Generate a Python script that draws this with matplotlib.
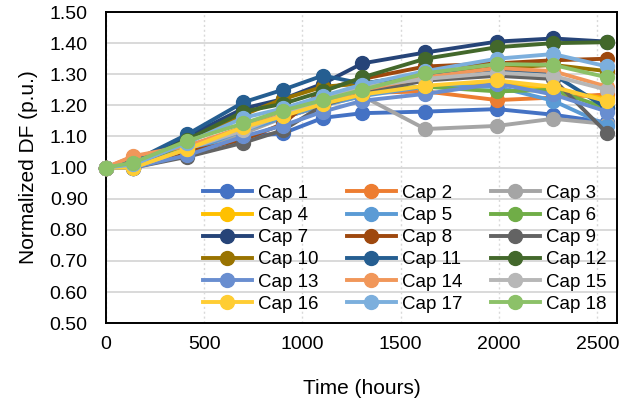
import matplotlib
matplotlib.use('Agg')
import matplotlib.pyplot as plt

plt.rcParams['font.family'] = ['Liberation Sans', 'DejaVu Sans']

# ------- data -------
hours = [0, 140, 415, 700, 900, 1105, 1305, 1625, 1990, 2275, 2550]

cap1 = [1.00, 1.00, 1.05, 1.10, 1.11, 1.16, 1.175, 1.18, 1.188, 1.17, 1.145]
cap2 = [1.00, 1.035, 1.06, 1.12, 1.16, 1.20, 1.24, 1.245, 1.217, 1.225, 1.235]
cap3 = [1.00, 1.00, 1.05, 1.11, 1.16, 1.20, 1.23, 1.124, 1.134, 1.157, 1.14]
cap4 = [1.00, 1.01, 1.06, 1.13, 1.17, 1.21, 1.24, 1.26, 1.27, 1.255, 1.22]
cap5 = [1.00, 1.00, 1.05, 1.12, 1.16, 1.20, 1.23, 1.26, 1.26, 1.215, 1.135]
cap6 = [1.00, 1.01, 1.06, 1.13, 1.17, 1.21, 1.25, 1.26, 1.245, 1.25, 1.19]
cap7 = [1.00, 1.00, 1.10, 1.19, 1.22, 1.27, 1.335, 1.37, 1.405, 1.415, 1.405]
cap8 = [1.00, 1.01, 1.05, 1.09, 1.14, 1.25, 1.285, 1.325, 1.335, 1.345, 1.35]
cap9 = [1.00, 1.00, 1.035, 1.08, 1.12, 1.20, 1.24, 1.28, 1.295, 1.285, 1.11]
cap10 = [1.00, 1.01, 1.08, 1.17, 1.22, 1.26, 1.27, 1.30, 1.32, 1.33, 1.31]
cap11 = [1.00, 1.02, 1.107, 1.21, 1.25, 1.296, 1.27, 1.30, 1.31, 1.30, 1.19]
cap12 = [1.00, 1.01, 1.09, 1.18, 1.205, 1.245, 1.29, 1.35, 1.387, 1.40, 1.403]
cap13 = [1.00, 1.00, 1.04, 1.10, 1.135, 1.18, 1.215, 1.237, 1.27, 1.235, 1.18]
cap14 = [1.00, 1.037, 1.07, 1.13, 1.17, 1.21, 1.25, 1.29, 1.32, 1.31, 1.26]
cap15 = [1.00, 1.00, 1.06, 1.12, 1.17, 1.22, 1.26, 1.285, 1.305, 1.295, 1.25]
cap16 = [1.00, 1.00, 1.06, 1.13, 1.165, 1.205, 1.235, 1.263, 1.28, 1.26, 1.213]
cap17 = [1.00, 1.01, 1.08, 1.16, 1.19, 1.23, 1.267, 1.31, 1.35, 1.365, 1.325]
cap18 = [1.00, 1.016, 1.086, 1.142, 1.183, 1.217, 1.25, 1.303, 1.333, 1.33, 1.29]

labels = ['Cap %d' % i for i in range(1, 19)]
series = [cap1, cap2, cap3, cap4, cap5, cap6, cap7, cap8, cap9,
          cap10, cap11, cap12, cap13, cap14, cap15, cap16, cap17, cap18]
colors = ['#4472C4', '#ED7D31', '#A5A5A5', '#FFC000', '#5B9BD5', '#70AD47',
          '#264478', '#9E480E', '#636363', '#997300', '#255E91', '#43682B',
          '#698ED0', '#F1975A', '#B7B7B7', '#FFCD33', '#7CAFDD', '#8CC168']

fig = plt.figure(figsize=(6.41, 4.07), dpi=100)
ax = fig.add_axes([0.165, 0.206, 0.7976, 0.7644])

handles = []
for vals, lab, col in zip(series, labels, colors):
    h, = ax.plot(hours, vals, color=col, lw=2.8, marker='o', ms=10,
                 label=lab, clip_on=False, zorder=3)
    handles.append(h)

ax.set_xlim(0, 2600)
ax.set_ylim(0.5, 1.5)
ax.set_xticks(range(0, 2501, 500))
ax.set_yticks([0.5 + 0.1 * i for i in range(11)])
ax.set_yticklabels(['%.2f' % (0.5 + 0.1 * i) for i in range(11)])

ax.grid(axis='y', color='#D9D9D9', lw=1.4, zorder=0)
ax.grid(axis='x', color='#D9D9D9', lw=1.0, ls=(0, (1.5, 2)), zorder=0)
ax.set_axisbelow(True)
for sp in ax.spines.values():
    sp.set_color('black')
    sp.set_linewidth(1.4)

ax.tick_params(axis='both', length=0, labelsize=14)
ax.tick_params(axis='y', pad=13)
ax.tick_params(axis='x', pad=9)
ax.set_xlabel('Time (hours)', fontsize=15, labelpad=19)
ax.set_ylabel('Normalized DF (p.u.)', fontsize=15, labelpad=8)

# legend is filled row by row (Cap 1, Cap 2, Cap 3 on first row)
order = [i + 3 * r for i in range(3) for r in range(6)]
ax.legend([handles[k] for k in order], [labels[k] for k in order],
          ncol=3, loc='lower right', bbox_to_anchor=(1.0, 0.0),
          frameon=False, fontsize=13.5, handlelength=2.6,
          columnspacing=1.5, handletextpad=0.35, labelspacing=0.27,
          borderaxespad=0.15)

fig.savefig('out.png', dpi=100)
